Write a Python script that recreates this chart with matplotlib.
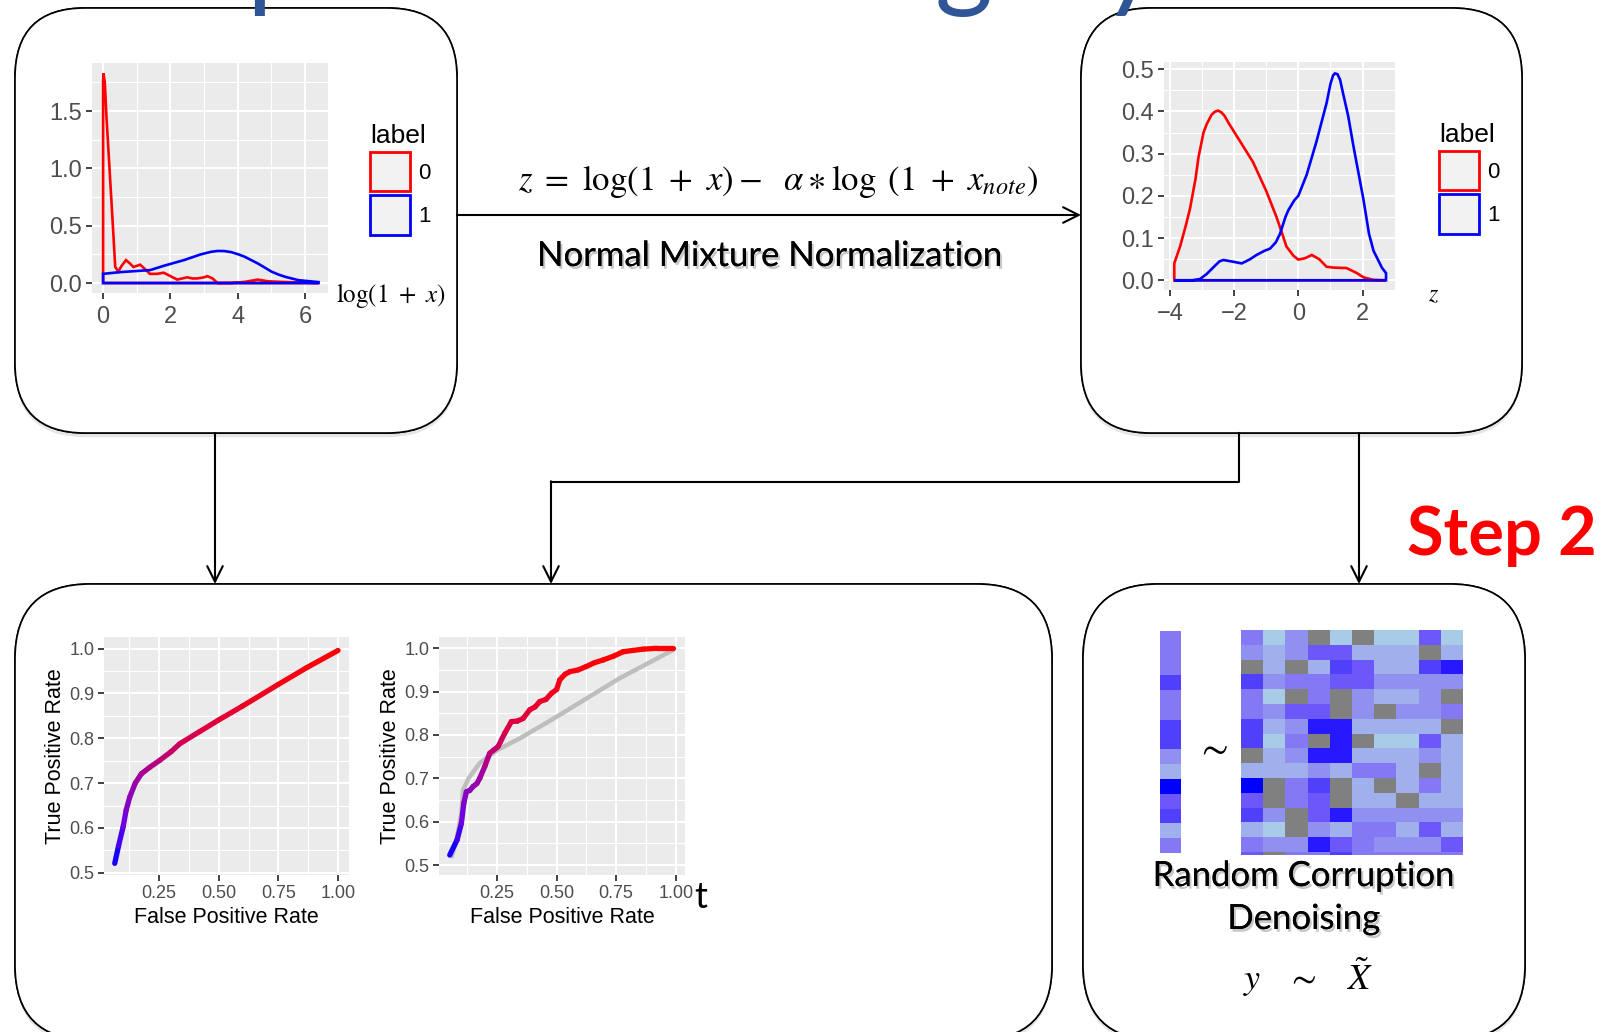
import numpy as np
import matplotlib
matplotlib.use('Agg')
import matplotlib.pyplot as plt
import matplotlib.patheffects as pe
from matplotlib.patches import FancyBboxPatch, Patch
from matplotlib.collections import LineCollection
from matplotlib.colors import ListedColormap, LinearSegmentedColormap, Normalize

plt.rcParams['font.family'] = ['Liberation Sans', 'DejaVu Sans']
plt.rcParams['mathtext.fontset'] = 'stix'

# ---- values ----
# density of log(1+x) by label
d1_red_x = [0.0, 0.01, 0.05, 0.1, 0.2, 0.3, 0.36, 0.45, 0.55, 0.68, 0.8, 0.9, 1.0, 1.1, 1.25, 1.39, 1.6, 1.8,
            2.0, 2.2, 2.35, 2.5, 2.65, 2.8, 3.0, 3.1, 3.25, 3.4, 3.8, 4.2, 4.6, 4.9, 5.3, 5.8, 6.4]
d1_red_y = [1.75, 1.83, 1.75, 1.45, 0.95, 0.45, 0.14, 0.10, 0.15, 0.20, 0.17, 0.14, 0.15, 0.16, 0.12, 0.08, 0.08,
            0.09, 0.06, 0.03, 0.04, 0.05, 0.04, 0.04, 0.05, 0.06, 0.04, 0.0, 0.0, 0.01, 0.03, 0.015, 0.01, 0.005, 0.0]
d1_blue_x = [0.0, 0.5, 1.0, 1.4, 1.8, 2.1, 2.4, 2.7, 2.9, 3.2, 3.4, 3.6, 3.8, 4.0, 4.2, 4.4, 4.6, 4.8, 5.0, 5.2,
             5.4, 5.8, 6.4]
d1_blue_y = [0.08, 0.095, 0.105, 0.113, 0.15, 0.175, 0.2, 0.23, 0.25, 0.272, 0.28, 0.279, 0.27, 0.252, 0.23,
             0.2, 0.17, 0.135, 0.1, 0.075, 0.055, 0.025, 0.008]

# density of z by label
d2_red_x = [-3.86, -3.68, -3.5, -3.37, -3.2, -3.11, -2.95, -2.85, -2.7, -2.6, -2.5, -2.4, -2.3, -2.15, -1.82,
            -1.41, -0.99, -0.68, -0.5, -0.37, -0.15, 0.0, 0.2, 0.42, 0.65, 0.88, 1.1, 1.5, 1.8, 2.03, 2.34, 2.73]
d2_red_y = [0.04, 0.08, 0.13, 0.17, 0.24, 0.29, 0.35, 0.37, 0.392, 0.399, 0.402, 0.398, 0.39, 0.37, 0.33,
            0.28, 0.21, 0.15, 0.11, 0.08, 0.058, 0.049, 0.052, 0.06, 0.05, 0.032, 0.03, 0.029, 0.018, 0.007,
            0.001, 0.0]
d2_blue_x = [-3.86, -3.3, -3.06, -2.85, -2.64, -2.45, -2.33, -2.1, -1.76, -1.5, -1.3, -1.05, -0.88, -0.7,
             -0.57, -0.4, -0.31, -0.12, 0.0, 0.26, 0.57, 0.88, 1.0, 1.08, 1.14, 1.22, 1.3, 1.4, 1.55, 1.71, 2.03,
             2.2, 2.34, 2.6, 2.73]
d2_blue_y = [0.0, 0.0, 0.003, 0.015, 0.031, 0.045, 0.048, 0.045, 0.04, 0.05, 0.06, 0.07, 0.075, 0.09,
             0.11, 0.15, 0.166, 0.19, 0.2, 0.25, 0.33, 0.42, 0.465, 0.485, 0.49, 0.488, 0.475, 0.44, 0.39, 0.32,
             0.19, 0.11, 0.07, 0.03, 0.017]
density_labels = ['0', '1']

# ROC curves
roc1_fpr = [0.064, 0.08, 0.099, 0.112, 0.127, 0.15, 0.176, 0.21, 0.253, 0.3, 0.337, 0.42, 0.497, 0.6,
            0.749, 0.87, 1.0]
roc1_tpr = [0.521, 0.56, 0.602, 0.64, 0.669, 0.7, 0.721, 0.735, 0.751, 0.77, 0.788, 0.815, 0.84, 0.872,
            0.92, 0.958, 0.996]
roc2_fpr = [0.051, 0.082, 0.1, 0.11, 0.121, 0.135, 0.149, 0.165, 0.177, 0.198, 0.219, 0.235, 0.254, 0.282,
            0.31, 0.335, 0.359, 0.387, 0.41, 0.429, 0.455, 0.478, 0.5, 0.513, 0.535, 0.555, 0.59, 0.625, 0.66,
            0.695, 0.74, 0.779, 0.82, 0.863, 0.92, 0.989]
roc2_tpr = [0.523, 0.558, 0.596, 0.642, 0.669, 0.672, 0.681, 0.688, 0.70, 0.727, 0.758, 0.765, 0.773, 0.804,
            0.831, 0.832, 0.838, 0.858, 0.865, 0.877, 0.882, 0.896, 0.905, 0.927, 0.94, 0.946, 0.95, 0.958,
            0.967, 0.973, 0.982, 0.992, 0.995, 0.998, 1.0, 1.0]
roc2_ref_fpr = [0.06, 0.08, 0.1, 0.107, 0.13, 0.177, 0.25, 0.345, 0.5, 0.765, 0.989]
roc2_ref_tpr = [0.52, 0.56, 0.62, 0.673, 0.7, 0.735, 0.765, 0.792, 0.842, 0.931, 0.996]

# corrupted matrix (0 = missing / grey, 1..8 = light -> deep blue)
y_vec = [4, 4, 4, 6, 4, 4, 6, 6, 3, 2, 8, 5, 6, 2, 4]
x_mat = [
    [4, 1, 3, 0, 1, 0, 1, 1, 5, 1],
    [3, 2, 3, 5, 5, 2, 2, 2, 0, 2],
    [0, 2, 0, 2, 6, 5, 2, 2, 6, 7],
    [6, 3, 4, 4, 5, 5, 3, 3, 3, 3],
    [4, 1, 0, 4, 0, 3, 2, 2, 3, 0],
    [4, 3, 5, 5, 0, 3, 0, 3, 3, 4],
    [6, 2, 3, 7, 7, 2, 2, 2, 2, 0],
    [6, 1, 4, 0, 7, 0, 1, 1, 5, 2],
    [0, 2, 3, 7, 7, 2, 2, 2, 3, 2],
    [2, 2, 2, 3, 2, 4, 4, 2, 0, 2],
    [8, 0, 4, 6, 0, 2, 0, 2, 4, 2],
    [5, 0, 4, 5, 0, 2, 2, 0, 2, 2],
    [6, 3, 0, 5, 7, 3, 3, 3, 3, 3],
    [2, 1, 0, 3, 2, 4, 4, 2, 5, 2],
    [4, 3, 3, 7, 5, 4, 3, 3, 3, 5],
    [5, 0, 4, 4, 6, 4, 4, 4, 4, 4],
]
level_colors = ['#808080', '#A8CCE8', '#A0B0EC', '#9090F0', '#8478F4', '#6C58F8', '#5040FC', '#2818FF', '#0000FF']

# ---- figure, pixel-based backdrop ----
W, H = 1601, 1032
fig = plt.figure(figsize=(W / 100, H / 100), dpi=100)
fig.patch.set_facecolor('white')
bg = fig.add_axes([0, 0, 1, 1])
bg.set_xlim(0, W)
bg.set_ylim(H, 0)
bg.axis('off')


def px_axes(x0, y0, x1, y1):
    return fig.add_axes([x0 / W, 1 - y1 / H, (x1 - x0) / W, (y1 - y0) / H])


def box(x0, y0, x1, y1, r=70):
    p = FancyBboxPatch((x0, y0), x1 - x0, y1 - y0, boxstyle='round,pad=0,rounding_size=%d' % r,
                       facecolor='white', edgecolor='black', lw=1.2, zorder=2,
                       path_effects=[pe.withSimplePatchShadow(offset=(0, -3), shadow_rgbFace='#999999', alpha=0.25),
                                     pe.Normal()])
    bg.add_patch(p)


box(15, 8, 457, 433)
box(1081, 8, 1522, 433)
box(15, 584, 1052, 1040, r=75)
box(1083, 584, 1525, 1040, r=75)

# title letters cut by the top edge
title_kw = dict(fontsize=80, color='#2F5597', family=['Lato', 'DejaVu Sans'], va='baseline', ha='left', zorder=5)
bg.text(246, -3, 'p', **title_kw)
bg.text(934, -3, 'g', **title_kw)
bg.text(1102, -3, 'y', **title_kw)

# arrows
arr = dict(arrowstyle='->', lw=1.5, color='black', mutation_scale=28, shrinkA=0, shrinkB=0)
bg.annotate('', xy=(1081, 215), xytext=(457, 215), arrowprops=arr, zorder=3)
bg.annotate('', xy=(215, 584), xytext=(215, 433), arrowprops=arr, zorder=3)
bg.annotate('', xy=(1359, 584), xytext=(1359, 433), arrowprops=arr, zorder=3)
bg.plot([1239, 1239, 551], [433, 482, 482], color='black', lw=1.5, zorder=3)
bg.annotate('', xy=(551, 584), xytext=(551, 481.3), arrowprops=arr, zorder=3)

shadow = [pe.withSimplePatchShadow(offset=(1.5, -2), shadow_rgbFace='black', alpha=0.22), pe.Normal()]
lato = ['Lato', 'DejaVu Sans']
bg.text(778, 182, r'$z\ =\ \log(1\ +\ x) -\ \ \alpha \ast \log\ (1\ +\ x_{note})$', fontsize=25,
        ha='center', va='center', zorder=4)
bg.text(770, 256, 'Normal Mixture Normalization', fontsize=25, family=lato, ha='center', va='center',
        path_effects=shadow, zorder=4)
bg.text(1502, 536, 'Step 2', fontsize=48, family=lato, weight='bold', color='#FF0000',
        ha='center', va='center', zorder=4)
bg.text(391, 295, r'$\log(1\ +\ x)$', fontsize=18, ha='center', va='center', zorder=4)
bg.text(1434, 295, r'$z$', fontsize=17, ha='center', va='center', zorder=4)
bg.text(1304, 876, 'Random Corruption', fontsize=25, family=lato, ha='center', va='center',
        path_effects=shadow, zorder=4)
bg.text(1304, 919, 'Denoising', fontsize=25, family=lato, ha='center', va='center',
        path_effects=shadow, zorder=4)
bg.text(1308, 977, r'$y\ \ \ \sim\ \ \ \tilde{X}$', fontsize=26, ha='center', va='center', zorder=4)
bg.text(1212, 749, r'$\sim$', fontsize=28, ha='center', va='center', zorder=4)
bg.text(701, 898, 't', fontsize=26, family=lato, ha='center', va='center', zorder=4)


def gg(ax, xmaj, xmin, ymaj, ymin, xlim, ylim, size):
    ax.set_facecolor('#EBEBEB')
    for s in ax.spines.values():
        s.set_visible(False)
    ax.set_xticks(xmaj)
    ax.set_xticks(xmin, minor=True)
    ax.set_yticks(ymaj)
    ax.set_yticks(ymin, minor=True)
    ax.set_xlim(*xlim)
    ax.set_ylim(*ylim)
    ax.grid(which='major', color='white', lw=1.5)
    ax.grid(which='minor', color='white', lw=0.8)
    ax.set_axisbelow(True)
    ax.tick_params(which='minor', length=0)
    ax.tick_params(which='major', length=4, width=1.3, color='#333333', labelcolor='#4D4D4D',
                   labelsize=size, pad=3)


def density_outline(ax, xs, ys, color):
    xs = np.r_[xs[0], xs, xs[-1]]
    ys = np.r_[0, ys, 0]
    ax.fill(xs, ys, facecolor='none', edgecolor=color, lw=1.9)


def legend(ax, x, y):
    handles = [Patch(facecolor='#F2F2F2', edgecolor=c, lw=2) for c in ('#FF0000', '#0000FF')]
    leg = ax.legend(handles, density_labels, title='label', loc='upper left', bbox_to_anchor=(x / W, 1 - y / H),
                    bbox_transform=fig.transFigure, frameon=False, fontsize=16, title_fontsize=19,
                    handlelength=1.8, handleheight=2.35, labelspacing=0.18, handletextpad=0.35,
                    borderpad=0, borderaxespad=0, alignment='left')
    return leg


# density 1
ax1 = px_axes(92, 63, 328, 293)
gg(ax1, [0, 2, 4, 6], [1, 3, 5], [0, 0.5, 1.0, 1.5], [0.25, 0.75, 1.25, 1.75], (-0.33, 6.68), (-0.087, 1.92), 17)
ax1.set_yticklabels(['0.0', '0.5', '1.0', '1.5'])
ax1.tick_params(axis='x', pad=5)
density_outline(ax1, d1_red_x, d1_red_y, '#FF0000')
density_outline(ax1, d1_blue_x, d1_blue_y, '#0000FF')
legend(ax1, 370, 124)

# density 2
ax2 = px_axes(1164, 62, 1396, 290)
gg(ax2, [-4, -2, 0, 2], [-3, -1, 1, 3], [0, 0.1, 0.2, 0.3, 0.4, 0.5], [0.05, 0.15, 0.25, 0.35, 0.45],
   (-4.18, 3.04), (-0.023, 0.517), 17)
ax2.set_xticklabels(['\u22124', '\u22122', '0', '2'])
ax2.set_yticklabels(['0.0', '0.1', '0.2', '0.3', '0.4', '0.5'])
ax2.tick_params(axis='x', pad=5)
density_outline(ax2, d2_red_x, d2_red_y, '#FF0000')
density_outline(ax2, d2_blue_x, d2_blue_y, '#0000FF')
legend(ax2, 1439, 123)

# ROC curves
roc_cmap = LinearSegmentedColormap.from_list('roc', [(0, '#0000FF'), (0.2, '#7000E0'), (0.4, '#A000A0'),
                                                     (0.6, '#D8004A'), (0.8, '#F0001E'), (1, '#FF0000')])
roc_norm = Normalize(0.52, 1.0)


def roc_line(ax, fpr, tpr):
    pts = np.column_stack([fpr, tpr])
    segs = np.stack([pts[:-1], pts[1:]], axis=1)
    mids = (np.array(tpr[:-1]) + np.array(tpr[1:])) / 2
    lc = LineCollection(segs, colors=roc_cmap(roc_norm(mids)), lw=3.8, capstyle='round', joinstyle='round')
    ax.add_collection(lc)


def roc_axes(ax, ylim, xlim):
    gg(ax, [0.25, 0.5, 0.75, 1.0], [0.125, 0.375, 0.625, 0.875], [0.5, 0.6, 0.7, 0.8, 0.9, 1.0],
       [0.55, 0.65, 0.75, 0.85, 0.95], xlim, ylim, 13)
    ax.set_xticklabels(['0.25', '0.50', '0.75', '1.00'])
    ax.set_yticklabels(['0.5', '0.6', '0.7', '0.8', '0.9', '1.0'])
    ax.set_xlabel('False Positive Rate', fontsize=15.5, labelpad=4)
    ax.set_ylabel('True Positive Rate', fontsize=15.5, labelpad=2)


ax3 = px_axes(104, 637, 349, 875)
roc_axes(ax3, (0.495, 1.026), (0.019, 1.046))
roc_line(ax3, roc1_fpr, roc1_tpr)

ax4 = px_axes(439, 637, 685, 875)
roc_axes(ax4, (0.477, 1.026), (0.006, 1.039))
ax4.plot(roc2_ref_fpr, roc2_ref_tpr, color='#BEBEBE', lw=3.2, solid_capstyle='round')
roc_line(ax4, roc2_fpr, roc2_tpr)

# heatmap: y and corrupted X
cmap = ListedColormap(level_colors)
ax5 = px_axes(1160, 631, 1181, 853)
ax5.imshow(np.array(y_vec)[:, None], cmap=cmap, vmin=-0.5, vmax=8.5, aspect='auto', interpolation='nearest')
ax5.axis('off')
ax6 = px_axes(1241, 630, 1463, 855)
ax6.imshow(np.array(x_mat), cmap=cmap, vmin=-0.5, vmax=8.5, aspect='auto', interpolation='nearest')
ax6.set_ylim(14.7, -0.5)
ax6.axis('off')

fig.savefig('out.png', dpi=100, facecolor='white')
